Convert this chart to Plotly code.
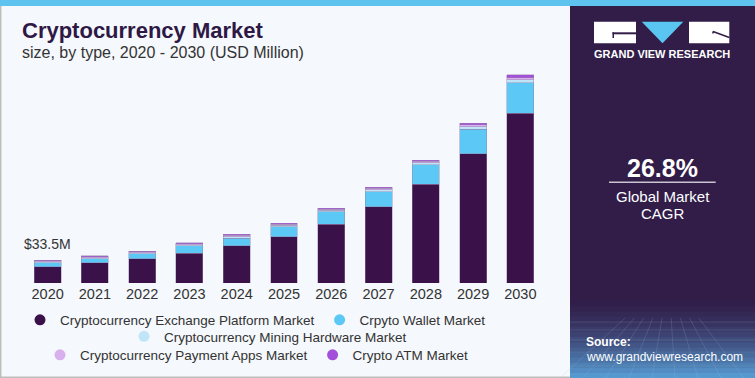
import plotly.graph_objects as go

years = ["2020", "2021", "2022", "2023", "2024", "2025", "2026", "2027", "2028", "2029", "2030"]
exchange = [23.8, 29.6, 35.0, 43.3, 54.3, 67.4, 85.9, 111.1, 143.8, 187.9, 247.2]
wallet = [5.8, 5.8, 7.3, 10.6, 11.2, 14.6, 17.9, 21.8, 28.1, 36.4, 44.6]
mining = [1.4, 1.5, 1.7, 1.7, 2.2, 1.9, 2.2, 2.9, 3.2, 3.6, 3.9]
payment = [1.3, 1.3, 1.2, 1.5, 1.7, 1.6, 1.7, 2.2, 2.3, 2.6, 3.4]
atm = [1.2, 1.2, 1.0, 1.2, 1.5, 1.3, 1.5, 1.7, 1.7, 2.5, 4.4]
first_label = "$33.5M"

series_names = [
    "Cryptocurrency Exchange Platform Market",
    "Crpyto Wallet Market",
    "Cryptocurrency Mining Hardware Market",
    "Cryptocurrency Payment Apps Market",
    "Crypto ATM Market",
]
series_vals = [exchange, wallet, mining, payment, atm]
colors = ["#3A1249", "#5BC8F5", "#BFE6F8", "#D8B0EE", "#A24FD9"]
legend_ids = ["legend", "legend", "legend2", "legend3", "legend3"]

W, H = 755, 378
L, R, T, B = 24, 211, 60, 95
PW, PH = W - L - R, H - T - B


def px(x):
    return (x - L) / PW


def py(y):
    return (H - B - y) / PH


fig = go.Figure()
for name, vals, col in zip(series_names, series_vals, colors):
    fig.add_trace(go.Bar(
        x=years, y=vals, name=name, marker_color=col,
        marker_line=dict(width=0.8, color="rgba(150,130,170,0.55)"),
        showlegend=False,
    ))
for name, col, lg in zip(series_names, colors, legend_ids):
    fig.add_trace(go.Scatter(
        x=[years[0]], y=[None], mode="markers", name=name,
        marker=dict(color=col, size=11, symbol="circle"),
        legend=lg, showlegend=True, hoverinfo="skip",
    ))

font_main = "Liberation Sans, Arial, sans-serif"

shapes = []
# right panel
shapes.append(dict(type="rect", xref="paper", yref="paper", x0=px(570), x1=px(756), y0=py(379), y1=py(0),
                   fillcolor="#311D48", line_width=0, layer="below"))
# gradient at bottom of right panel
n = 16
y_start, y_end = 296, 378
c0 = (49, 29, 72)
c1 = (88, 160, 215)
for i in range(n):
    ya = y_start + (y_end - y_start) * i / n
    yb = y_start + (y_end - y_start) * (i + 1) / n + 0.6
    t = ((i + 0.5) / n) ** 1.6
    c = tuple(int(c0[k] + (c1[k] - c0[k]) * t) for k in range(3))
    shapes.append(dict(type="rect", xref="paper", yref="paper", x0=px(570), x1=px(756), y0=py(yb), y1=py(ya),
                       fillcolor="rgb(%d,%d,%d)" % c, line_width=0, layer="below"))
# faint grid texture
for i in range(9):
    xa = 570 + i * 23
    shapes.append(dict(type="line", xref="paper", yref="paper", x0=px(662 + (xa - 662) * 0.4), y0=py(318),
                       x1=px(xa - 10), y1=py(378), line=dict(color="rgba(170,190,230,0.18)", width=1), layer="below"))
for yy in [322, 330, 340, 352, 366]:
    shapes.append(dict(type="line", xref="paper", yref="paper", x0=px(570), x1=px(755), y0=py(yy), y1=py(yy),
                       line=dict(color="rgba(170,190,230,0.16)", width=1), layer="below"))
# top blue band
shapes.append(dict(type="rect", xref="paper", yref="paper", x0=px(-1), x1=px(756), y0=py(6), y1=py(-1),
                   fillcolor="#5EC4EF", line_width=0))
# left/bottom border
shapes.append(dict(type="line", xref="paper", yref="paper", x0=px(0.7), x1=px(0.7), y0=py(6), y1=py(378),
                   line=dict(color="#BDBDBD", width=1.5)))
shapes.append(dict(type="line", xref="paper", yref="paper", x0=px(0), x1=px(570), y0=py(377.3), y1=py(377.3),
                   line=dict(color="#BDBDBD", width=1.5)))
# logo
shapes.append(dict(type="rect", xref="paper", yref="paper", x0=px(594), x1=px(636), y0=py(43.3), y1=py(21.7),
                   fillcolor="white", line_width=0))
shapes.append(dict(type="rect", xref="paper", yref="paper", x0=px(612.5), x1=px(636), y0=py(34.3), y1=py(32.3),
                   fillcolor="#311D48", line_width=0))
shapes.append(dict(type="rect", xref="paper", yref="paper", x0=px(612.5), x1=px(614), y0=py(38), y1=py(32.3),
                   fillcolor="#311D48", line_width=0))
tri = "M %f,%f L %f,%f L %f,%f Z" % (px(641.7), py(21.7), px(683.3), py(21.7), px(662.5), py(43.3))
shapes.append(dict(type="path", xref="paper", yref="paper", path=tri, fillcolor="#5BC5F2", line_width=0))
shapes.append(dict(type="rect", xref="paper", yref="paper", x0=px(689), x1=px(729.3), y0=py(43.3), y1=py(21.7),
                   fillcolor="white", line_width=0))
shapes.append(dict(type="line", xref="paper", yref="paper", x0=px(713), y0=py(31.5), x1=px(729.3), y1=py(37.5),
                   line=dict(color="#311D48", width=1.5)))
shapes.append(dict(type="line", xref="paper", yref="paper", x0=px(713), y0=py(31.5), x1=px(713), y1=py(33.5),
                   line=dict(color="#311D48", width=1.5)))
# divider under CAGR
shapes.append(dict(type="line", xref="paper", yref="paper", x0=px(609), x1=px(715.7), y0=py(182.3), y1=py(182.3),
                   line=dict(color="#C9C4D2", width=1.5)))

annotations = [
    dict(text="<b>Cryptocurrency Market</b>", x=px(19.5), y=py(30), xanchor="left", yanchor="middle",
         font=dict(family=font_main, size=22, color="#2E1845")),
    dict(text="size, by type, 2020 - 2030 (USD Million)", x=px(19.5), y=py(52.5), xanchor="left", yanchor="middle",
         font=dict(family=font_main, size=16, color="#333333")),
    dict(text=first_label, x=0, y=sum(s[0] for s in series_vals), xref="x", yref="y",
         xanchor="center", yanchor="bottom", yshift=6, showarrow=False,
         font=dict(family=font_main, size=14, color="#333333")),
    dict(text="<b>GRAND VIEW RESEARCH</b>", x=px(661.5), y=py(54), xanchor="center", yanchor="middle",
         font=dict(family=font_main, size=11, color="white")),
    dict(text="<b>26.8%</b>", x=px(662), y=py(168), xanchor="center", yanchor="middle",
         font=dict(family=font_main, size=25, color="white")),
    dict(text="Global Market", x=px(662.5), y=py(196), xanchor="center", yanchor="middle",
         font=dict(family=font_main, size=15, color="white")),
    dict(text="CAGR", x=px(662.5), y=py(213.5), xanchor="center", yanchor="middle",
         font=dict(family=font_main, size=15, color="white")),
    dict(text="<b>Source:</b>", x=px(584), y=py(341.7), xanchor="left", yanchor="middle",
         font=dict(family=font_main, size=12, color="white")),
    dict(text="www.grandviewresearch.com", x=px(584), y=py(356.5), xanchor="left", yanchor="middle",
         font=dict(family=font_main, size=12, color="white")),
]
for a in annotations:
    a.setdefault("xref", "paper")
    a.setdefault("yref", "paper")
    a.setdefault("showarrow", False)

legend_common = dict(orientation="h", xanchor="center", yanchor="middle", bgcolor="rgba(0,0,0,0)",
                     xref="container", yref="container", traceorder="normal",
                     font=dict(family=font_main, size=13.5, color="#333333"), itemwidth=30,
                     itemclick=False, itemdoubleclick=False)

fig.update_layout(
    width=W, height=H, autosize=False,
    margin=dict(l=L, r=R, t=T, b=B, pad=0, autoexpand=False),
    barmode="stack", bargap=0.43,
    paper_bgcolor="#F5F8FC", plot_bgcolor="#F5F8FC",
    font=dict(family=font_main),
    xaxis=dict(type="category", categoryorder="array", categoryarray=years, range=[-0.5, 10.5],
               showgrid=False, zeroline=False, showline=False, ticks="",
               tickfont=dict(family=font_main, size=14.5, color="#333333"), fixedrange=True),
    yaxis=dict(range=[0, 324.8], visible=False, showgrid=False, zeroline=False, fixedrange=True),
    shapes=shapes,
    annotations=annotations,
    legend=dict(x=255.5 / W, y=1 - 320 / H, **legend_common),
    legend2=dict(x=268 / W, y=1 - 336.5 / H, **legend_common),
    legend3=dict(x=257 / W, y=1 - 355 / H, **legend_common),
    showlegend=True,
)

fig.write_html("out.html", config=dict(displayModeBar=False),
               post_script="document.body.style.margin='0px';document.body.style.overflow='hidden';")
